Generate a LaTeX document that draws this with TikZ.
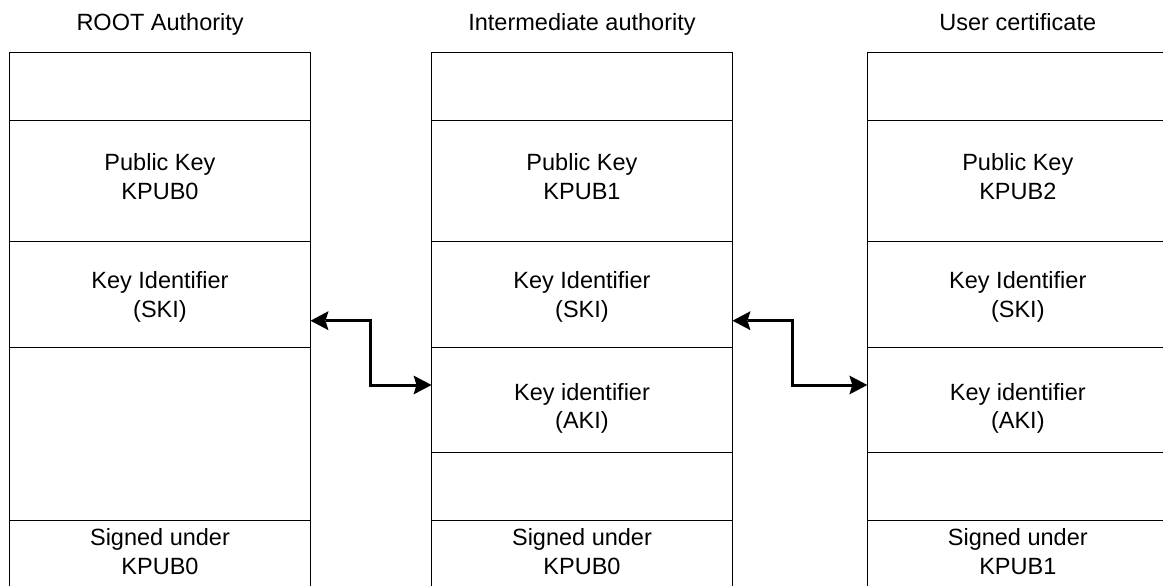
\documentclass[tikz,border=0pt]{standalone}
\usepackage{fontspec}
\setmainfont{Liberation Sans}
\usetikzlibrary{arrows.meta,positioning}
\begin{document}
\begin{tikzpicture}[x=1pt,y=-1pt,
  txt/.style={font=\fontsize{23.5}{28.6}\selectfont, align=center, inner sep=0pt},
  cell/.style={draw=black, line width=1pt, minimum width=301pt,
    inner sep=0pt, outer sep=0pt},
  opencell/.style={minimum width=301pt, minimum height=62pt,
    inner sep=0pt, outer sep=0pt},
  rule/.style={draw=black, line width=1pt},
  title/.style={txt, anchor=base},
  link/.style={line width=3pt,
    {Stealth[length=18pt,width=19pt,inset=3pt,line width=0pt]}-{Stealth[length=18pt,width=19pt,inset=3pt,line width=0pt]}},
  node distance=0pt
]
\useasboundingbox (0,0) rectangle (1163,586);
\clip (0,0) rectangle (1163,586);

% column headings
\node[title] (troot) at (160.1,30.7) {ROOT Authority};
\node[title] (tint)  at (582,30.7) {Intermediate authority};
\node[title] (tuser) at (1017.8,30.7) {User certificate};

% ROOT authority certificate
\node[cell, anchor=north west, minimum height=67.6pt] (l1) at (9.5,52.7) {};
\node[cell, minimum height=121pt, below=of l1] (l2) {};
\node[cell, minimum height=105.7pt, below=of l2] (l3) {};
\node[cell, minimum height=173pt, below=of l3] (l4) {};
\node[opencell, below=of l4] (l5) {};
\draw[rule] (l5.north west) -- ++(0,80) (l5.north east) -- ++(0,80);
\node[txt] (l2t) at ([yshift=4pt]l2.center) {Public Key\\KPUB0};
\node[txt] (l3t) at ([yshift=-2.8pt]l3.center) {Key Identifier\\(SKI)};
\node[txt] (l5t) at ([yshift=-0.8pt]l5.center) {Signed under\\KPUB0};

% intermediate authority certificate
\node[cell, anchor=north west, minimum height=67.6pt] (m1) at (431.5,52.7) {};
\node[cell, minimum height=121pt, below=of m1] (m2) {};
\node[cell, minimum height=105.7pt, below=of m2] (m3) {};
\node[cell, minimum height=105pt, below=of m3] (m4) {};
\node[cell, minimum height=68pt, below=of m4] (m5) {};
\node[opencell, below=of m5] (m6) {};
\draw[rule] (m6.north west) -- ++(0,80) (m6.north east) -- ++(0,80);
\node[txt] (m2t) at ([yshift=4pt]m2.center) {Public Key\\KPUB1};
\node[txt] (m3t) at ([yshift=-2.8pt]m3.center) {Key Identifier\\(SKI)};
\node[txt] (m4t) at ([yshift=-9pt]m4.center) {Key identifier\\(AKI)};
\node[txt] (m6t) at ([yshift=-0.8pt]m6.center) {Signed under\\KPUB0};

% user certificate
\node[cell, anchor=north west, minimum height=67.6pt] (r1) at (867.3,52.7) {};
\node[cell, minimum height=121pt, below=of r1] (r2) {};
\node[cell, minimum height=105.7pt, below=of r2] (r3) {};
\node[cell, minimum height=105pt, below=of r3] (r4) {};
\node[cell, minimum height=68pt, below=of r4] (r5) {};
\node[opencell, below=of r5] (r6) {};
\draw[rule] (r6.north west) -- ++(0,80) (r6.north east) -- ++(0,80);
\node[txt] (r2t) at ([yshift=4pt]r2.center) {Public Key\\KPUB2};
\node[txt] (r3t) at ([yshift=-2.8pt]r3.center) {Key Identifier\\(SKI)};
\node[txt] (r4t) at ([yshift=-9pt]r4.center) {Key identifier\\(AKI)};
\node[txt] (r6t) at ([yshift=-0.8pt]r6.center) {Signed under\\KPUB1};

% SKI of the issuer linked to AKI of the subject
\draw[link] ([yshift=26.3pt]l3.south east) -- ++(60,0) |- ([yshift=14.5pt]m4.west);
\draw[link] ([yshift=26.3pt]m3.south east) -- ++(60.4,0) |- ([yshift=14.5pt]r4.west);
\end{tikzpicture}
\end{document}
